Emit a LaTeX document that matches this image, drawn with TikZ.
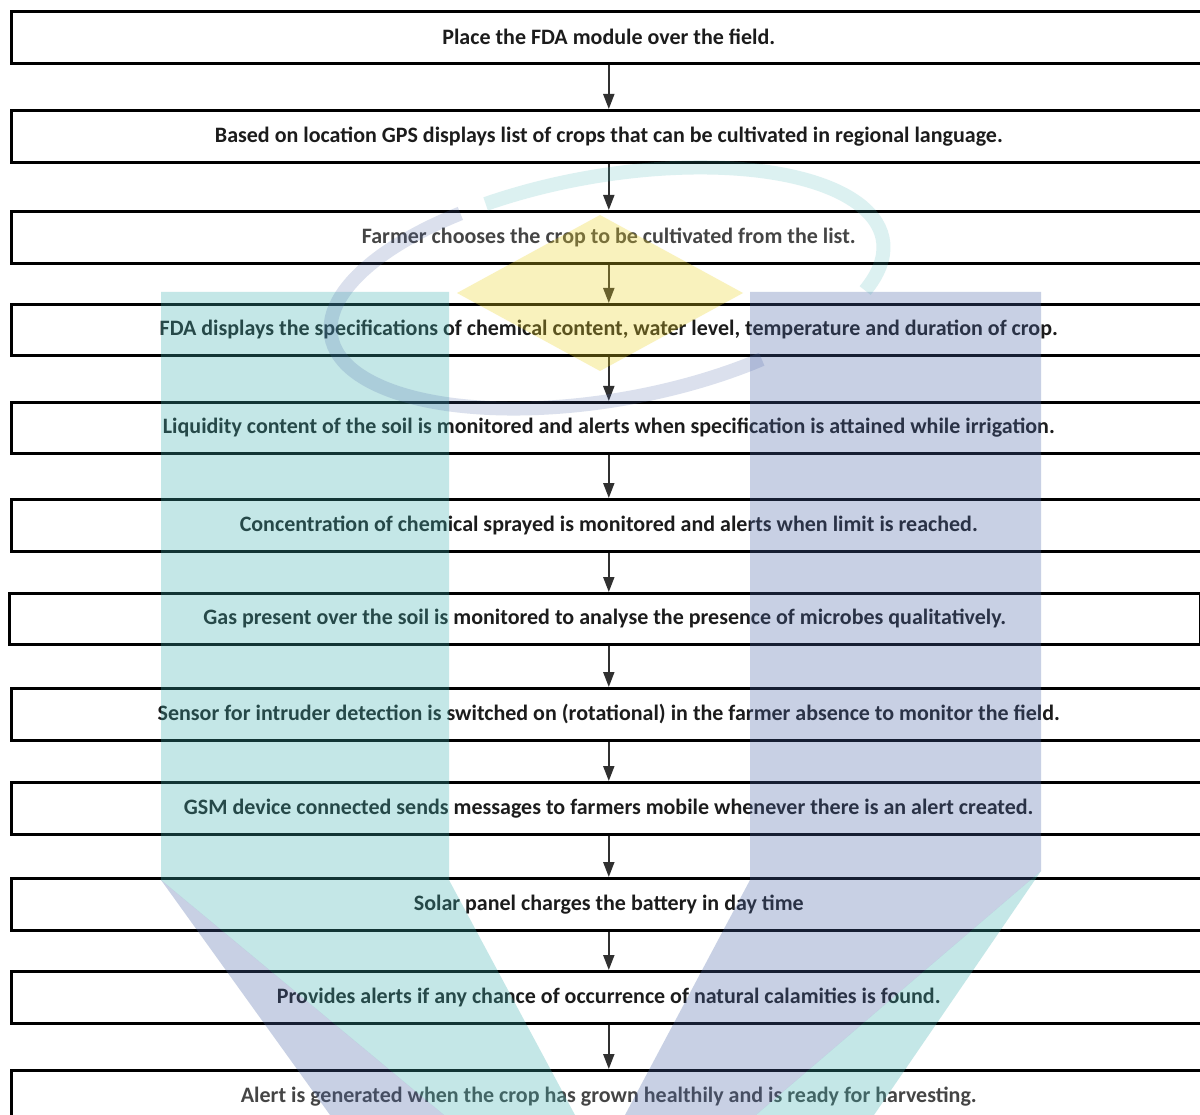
\documentclass[tikz,border=0pt]{standalone}
\usepackage{fontspec}
\usepackage{graphicx}
\setmainfont{Carlito}
\usetikzlibrary{arrows.meta}
\definecolor{txt}{HTML}{1C1C1C}
\definecolor{txtgray}{HTML}{454545}
\definecolor{arrowc}{HTML}{303030}
\definecolor{wteal}{RGB}{62,178,178}
\definecolor{wblue}{RGB}{75,102,168}
\definecolor{wyellow}{RGB}{238,212,38}
\begin{document}
\begin{tikzpicture}[x=1pt,y=-1pt,
  box/.style={draw=black, line width=2.6pt, minimum width=1195pt, minimum height=52pt,
    inner sep=0pt, anchor=north west, text=txt,
    font=\fontsize{22}{26}\selectfont\bfseries},
  arr/.style={draw=arrowc, line width=2pt, -{Triangle[width=11pt,length=15pt]}},
  wm/.style={opacity=0.3}]
\useasboundingbox (0,0) rectangle (1200,1115);
\fill[white] (0,0) rectangle (1200,1115);

\node[box] (b1) at (10,10) {Place the FDA module over the field.};
\node[box] (b2) at (10,109) {Based on location GPS displays list of crops that can be cultivated in regional language.};
\node[box, text=txtgray] (b3) at (10,210) {Farmer chooses the crop to be cultivated from the list.};
\node[box, minimum height=51pt] (b4) at (10,303) {FDA displays the specifications of chemical content, water level, temperature and duration of crop.};
\node[box, minimum height=51pt] (b5) at (10,401) {Liquidity content of the soil is monitored and alerts when specification is attained while irrigation.};
\node[box] (b6) at (10,498) {Concentration of chemical sprayed is monitored and alerts when limit is reached.};
\node[box, minimum width=1191pt, minimum height=51pt] (b7) at (8,592) {Gas present over the soil is monitored to analyse the presence of microbes qualitatively.};
\node[box] (b8) at (10,687) {Sensor for intruder detection is switched on (rotational) in the farmer absence to monitor the field.};
\node[box] (b9) at (10,781) {GSM device connected sends messages to farmers mobile whenever there is an alert created.};
\node[box] (b10) at (10,877) {Solar panel charges the battery in day time};
\node[box] (b11) at (10,970) {Provides alerts if any chance of occurrence of natural calamities is found.};
\node[box, text=txtgray] (b12) at (10,1069) {Alert is generated when the crop has grown healthily and is ready for harvesting.};

\draw[arr] (b1.south) -- (b2.north);
\draw[arr] (b2.south) -- (b3.north);
\draw[arr] (b3.south) -- (b4.north);
\draw[arr] (b4.south) -- (b5.north);
\draw[arr] (b5.south) -- (b6.north);
\draw[arr] (b6.south) -- (b6.south |- b7.north);
\draw[arr] (b7.south -| b6.south) -- (b8.north);
\draw[arr] (b8.south) -- (b9.north);
\draw[arr] (b9.south) -- (b10.north);
\draw[arr] (b10.south) -- (b11.north);
\draw[arr] (b11.south) -- (b12.north);

% watermark overlay
\fill[wm, wteal] (161,292) -- (449,292) -- (449,880) -- (575,1115) -- (444,1115) -- (161,880) -- cycle;
\fill[wm, wblue] (161,880) -- (444,1115) -- (330,1115) -- cycle;
\fill[wm, wblue] (750,292) -- (1041,292) -- (1041,871) -- (756,1115) -- (625,1115) -- (750,880) -- cycle;
\fill[wm, wteal] (1041,871) -- (874,1115) -- (756,1115) -- cycle;
\fill[wm, wyellow] (600,215) -- (743,293) -- (600,371) -- (457,293) -- cycle;
\begin{scope}[shift={(607,288)}, y=1pt, rotate=10]
  \draw[opacity=0.18, wteal, line width=14pt] ({280*cos(-25)},{112*sin(-25)}) arc [start angle=-25, end angle=112, x radius=280, y radius=112];
  \draw[opacity=0.2, wblue, line width=14pt] ({280*cos(118)},{112*sin(118)}) arc [start angle=118, end angle=300, x radius=280, y radius=112];
\end{scope}
\end{tikzpicture}
\end{document}
